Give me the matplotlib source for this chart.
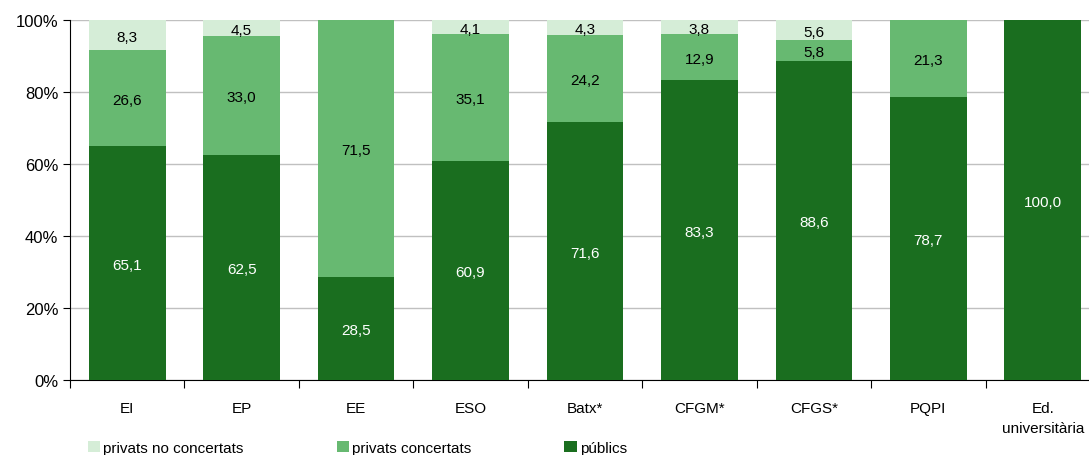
import matplotlib.pyplot as plt
import numpy as np

plt.rcParams['font.family'] = ['Liberation Sans', 'DejaVu Sans']

categories = ['EI', 'EP', 'EE', 'ESO', 'Batx*', 'CFGM*', 'CFGS*', 'PQPI', 'Ed.\nuniversitària']
publics = [65.1, 62.5, 28.5, 60.9, 71.6, 83.3, 88.6, 78.7, 100.0]
concertats = [26.6, 33.0, 71.5, 35.1, 24.2, 12.9, 5.8, 21.3, 0.0]
no_concertats = [8.3, 4.5, 0.0, 4.1, 4.3, 3.8, 5.6, 0.0, 0.0]

c_light = '#d5edd7'
c_mid = '#67b971'
c_dark = '#1a6e1f'

fig = plt.figure(figsize=(10.89, 4.56), dpi=100)
ax = fig.add_axes([70 / 1089, 1 - 381 / 456, 1030 / 1089, 360 / 456])

x = np.arange(len(categories))
w = 0.67
pub = np.array(publics)
con = np.array(concertats)
nco = np.array(no_concertats)

ax.bar(x, pub, w, color=c_dark, label='públics', zorder=3)
ax.bar(x, con, w, bottom=pub, color=c_mid, label='privats concertats', zorder=3)
ax.bar(x, nco, w, bottom=pub + con, color=c_light, label='privats no concertats', zorder=3)

def fmt(v):
    return f'{v:.1f}'.replace('.', ',')

for i in range(len(x)):
    if pub[i] > 0:
        ax.text(x[i], pub[i] / 2 - 0.5, fmt(pub[i]), ha='center', va='center',
                color='white', fontsize=11, zorder=4)
    if con[i] > 0:
        ax.text(x[i], pub[i] + con[i] / 2 - 0.5, fmt(con[i]), ha='center', va='center',
                color='black', fontsize=11, zorder=4)
    if nco[i] > 0:
        ax.text(x[i], pub[i] + con[i] + nco[i] / 2 - 0.5, fmt(nco[i]), ha='center',
                va='center', color='black', fontsize=11, zorder=4)

ax.set_xlim(-0.5, len(x) - 0.5)
ax.set_ylim(0, 100)
ax.set_yticks(range(0, 101, 20))
ax.set_yticklabels([f'{v}%' for v in range(0, 101, 20)], fontsize=12)
ax.yaxis.grid(True, color='#c0c0c0', linewidth=1, zorder=0)

ax.set_xticks(np.arange(-0.5, len(x) - 0.4, 1))
ax.set_xticklabels([])
ax.set_xticks(x, minor=True)
ax.set_xticklabels(categories, minor=True, fontsize=11, linespacing=1.6)
ax.tick_params(axis='x', which='minor', length=0, pad=15)
ax.tick_params(axis='x', which='major', length=6, direction='out')
ax.tick_params(axis='y', length=5, direction='out', labelsize=12)

for s in ['top', 'right']:
    ax.spines[s].set_visible(False)
ax.spines['left'].set_color('black')
ax.spines['bottom'].set_color('black')

handles, labels = ax.get_legend_handles_labels()
fig.legend(handles[::-1], labels[::-1], loc='lower left',
           bbox_to_anchor=(74 / 1089, -0.03), ncol=3, frameon=False,
           fontsize=11, handlelength=0.8, handleheight=0.8, handletextpad=0.2,
           columnspacing=6.1)

fig.savefig('out.png', dpi=100)
